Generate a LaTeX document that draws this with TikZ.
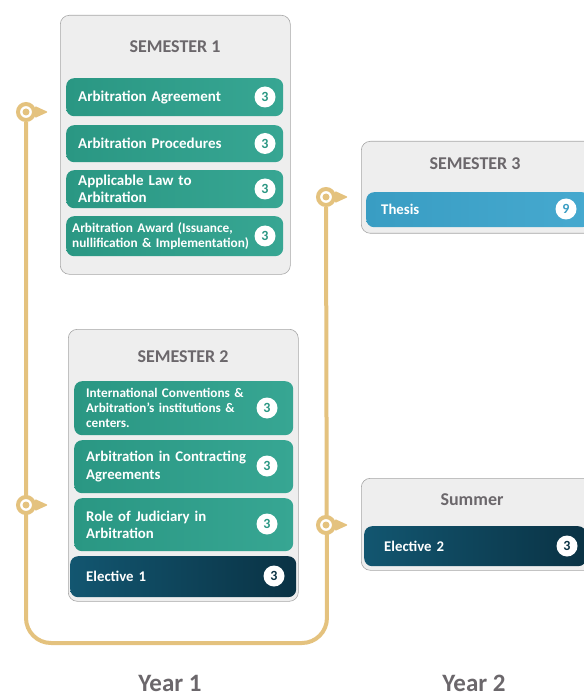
\documentclass[tikz,border=0pt]{standalone}
\usepackage{fontspec}
\setmainfont{Carlito}
\usetikzlibrary{backgrounds}

\definecolor{gold}{HTML}{E4C27E}
\definecolor{teal1}{HTML}{2A9783}
\definecolor{teal2}{HTML}{37A693}
\definecolor{navy1}{HTML}{125670}
\definecolor{navy2}{HTML}{0A3244}
\definecolor{sky1}{HTML}{399DC3}
\definecolor{sky2}{HTML}{46A9CF}
\definecolor{boxgray}{HTML}{EEEEEE}
\definecolor{titlegray}{HTML}{6B676B}

\tikzset{
  semester/.style={draw=gray!70, fill=boxgray, rounded corners=9pt, line width=0.6pt, anchor=north west},
  semtitle/.style={text=titlegray, font=\bfseries\fontsize{18}{20}\selectfont},
  course/.style={rounded corners=8pt, anchor=north west, text=white, align=left, inner xsep=12pt,
    font=\bfseries\fontsize{15}{17}\selectfont, left color=teal1, right color=teal2},
  elective/.style={course, left color=navy1, right color=navy2},
  thesis/.style={course, left color=sky1, right color=sky2},
  badge/.style={circle, fill=white, inner sep=0pt, minimum size=21pt, text=teal1,
    font=\bfseries\fontsize{14}{14}\selectfont},
  ring/.style={circle, draw=gold, line width=4pt, fill=white, minimum size=16pt, inner sep=0pt},
  timeline/.style={draw=gold, line width=4pt, rounded corners=25pt},
  year/.style={text=titlegray, anchor=base, inner sep=0pt, font=\bfseries\fontsize{25}{27}\selectfont}
}

\begin{document}
\begin{tikzpicture}[x=1pt, y=-1pt]
  \useasboundingbox (0,0) rectangle (583,700);

  % semester 1
  \node[semester, minimum width=230pt, minimum height=259pt] (sem1) at (60,15) {};
  \node[semtitle] (sem1title) at (175,47) {SEMESTER 1};
  \node[course, text width=193pt, minimum height=38pt] (agreement) at (66,78) {Arbitration Agreement};
  \node[course, text width=193pt, minimum height=37pt] (procedures) at (66,125) {Arbitration Procedures};
  \node[course, text width=193pt, minimum height=38pt] (law) at (66,170) {Applicable Law to\\Arbitration};
  \node[course, text width=205pt, minimum height=40pt, inner xsep=6pt,
    font=\bfseries\fontsize{13.3}{15.5}\selectfont] (award) at (66,216)
    {Arbitration Award (Issuance,\\nullification \& Implementation)};
  \node[badge] (b1) at (265,97) {3};
  \node[badge] (b2) at (265,143.5) {3};
  \node[badge] (b3) at (265,189) {3};
  \node[badge] (b4) at (265,236) {3};

  % semester 2
  \node[semester, minimum width=230pt, minimum height=272pt] (sem2) at (68,329) {};
  \node[semtitle] (sem2title) at (183,357) {SEMESTER 2};
  \node[course, text width=195pt, minimum height=54pt,
    font=\bfseries\fontsize{13.2}{15}\selectfont] (conventions) at (74,381)
    {International Conventions \&\\Arbitration's institutions \&\\centers.};
  \node[course, text width=195pt, minimum height=53pt,
    font=\bfseries\fontsize{14.8}{17.5}\selectfont] (contracting) at (74,440)
    {Arbitration in Contracting\\Agreements};
  \node[course, text width=195pt, minimum height=53pt,
    font=\bfseries\fontsize{14.8}{17.5}\selectfont] (judiciary) at (74,498)
    {Role of Judiciary in\\Arbitration};
  \node[elective, text width=194pt, minimum height=41pt, inner xsep=16pt,
    font=\bfseries\fontsize{14.8}{17}\selectfont] (elective1) at (70,556) {Elective 1};
  \node[badge] (b5) at (267,408) {3};
  \node[badge] (b6) at (267,466) {3};
  \node[badge] (b7) at (267,524) {3};
  \node[badge, text=navy2] (b8) at (274,576) {3};

  % semester 3
  \node[semester, minimum width=232pt, minimum height=92pt] (sem3) at (361,141) {};
  \node[semtitle] (sem3title) at (475,164) {SEMESTER 3};
  \node[thesis, text width=194pt, minimum height=35pt, inner xsep=15pt,
    font=\bfseries\fontsize{14.8}{17}\selectfont] (thesis) at (366,192) {Thesis};
  \node[badge, text=sky1] (b9) at (566,209) {9};

  % summer
  \node[semester, minimum width=232pt, minimum height=92pt] (summer) at (361,478) {};
  \node[semtitle] (summertitle) at (472,500) {Summer};
  \node[elective, text width=182pt, minimum height=40pt, inner xsep=20pt,
    font=\bfseries\fontsize{14.8}{17}\selectfont] (elective2) at (364,526) {Elective 2};
  \node[badge, text=navy2] (b10) at (567,546) {3};

  % timeline
  \node[ring] (dot1) at (26,112) {};
  \node[ring] (dot2) at (26,505) {};
  \node[ring] (dot3) at (326,197) {};
  \node[ring] (dot4) at (326,525) {};
  \coordinate (bl) at (26,643);
  \coordinate (br) at (327,643);
  \begin{scope}[on background layer]
    \draw[timeline] (dot1) -- (bl) -- (br) -- (dot3);
  \end{scope}
  \foreach \d in {dot1,dot2,dot3,dot4} {
    \fill[gold] (\d.center) circle (3.5pt);
    \fill[gold, rounded corners=1pt] (\d.east) ++(-1,-6) -- ++(13,6) -- ++(-13,6) -- cycle;
  }

  \node[year] (year1) at (170,691) {Year 1};
  \node[year] (year2) at (474,691) {Year 2};
\end{tikzpicture}
\end{document}
